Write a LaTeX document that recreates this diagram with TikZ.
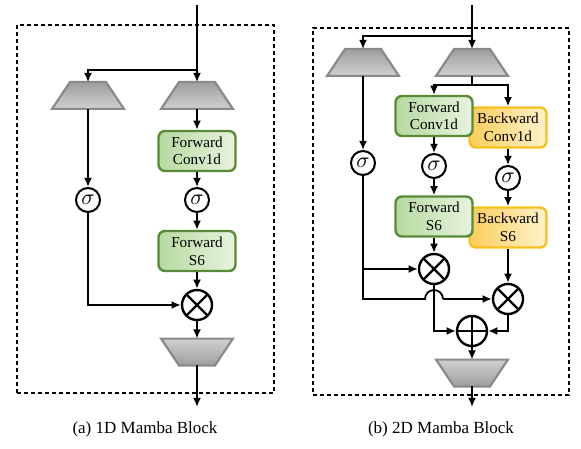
\documentclass[tikz,border=0pt]{standalone}
\usepackage{fontspec}
\setmainfont{Liberation Serif}
\usetikzlibrary{calc,arrows.meta}
\definecolor{trapA}{RGB}{158,158,158}
\definecolor{trapB}{RGB}{208,208,208}
\definecolor{trapdraw}{RGB}{138,138,138}
\definecolor{greenA}{RGB}{182,217,160}
\definecolor{greenB}{RGB}{232,243,222}
\definecolor{greendraw}{RGB}{88,138,56}
\definecolor{orangeA}{RGB}{252,206,90}
\definecolor{orangeB}{RGB}{255,242,205}
\definecolor{orangedraw}{RGB}{246,193,30}
\newcommand{\mytrapup}[1]{\draw[trapst, top color=trapA, bottom color=trapB]
  ($(#1.north)+(-18,0)$) -- ($(#1.north)+(18,0)$) -- (#1.south east) -- (#1.south west) -- cycle;}
\newcommand{\mytrapdown}[1]{\draw[trapst, top color=trapB, bottom color=trapA]
  (#1.north west) -- (#1.north east) -- ($(#1.south)+(18,0)$) -- ($(#1.south)+(-18,0)$) -- cycle;}
\begin{document}
\begin{tikzpicture}[x=0.5pt,y=-0.5pt,
  >={Latex[length=4.6pt,width=4pt]}, line width=0.9pt,
  tbox/.style={rectangle, minimum width=35pt, minimum height=12.5pt, inner sep=0pt},
  trapst/.style={draw=trapdraw, line width=1.1pt, line join=miter},
  fbox/.style={rounded corners=3.2pt, draw=greendraw, line width=1.2pt,
    left color=greenA, right color=greenB, minimum width=38.5pt, minimum height=20pt,
    align=center, inner sep=0pt, font=\fontsize{7.6}{8.8}\selectfont},
  bbox/.style={fbox, draw=orangedraw, left color=orangeA, right color=orangeB},
  sig/.style={circle, draw, line width=1pt, minimum size=12pt, inner sep=0pt,
    fill=white, font=\fontsize{11}{11}\selectfont},
  mul/.style={circle, draw, line width=1.2pt, minimum size=15pt, inner sep=0pt, fill=white,
    path picture={\draw[line width=1.1pt] (path picture bounding box.north west) -- (path picture bounding box.south east)
      (path picture bounding box.north east) -- (path picture bounding box.south west);}},
  addn/.style={circle, draw, line width=1.2pt, minimum size=15pt, inner sep=0pt, fill=white,
    path picture={\draw[line width=1.1pt] (path picture bounding box.north) -- (path picture bounding box.south)
      (path picture bounding box.east) -- (path picture bounding box.west);}},
  frame/.style={draw, line width=0.7pt, dash pattern=on 2pt off 1.5pt},
  captext/.style={font=\fontsize{8.5}{10}\selectfont}
]
\useasboundingbox (0,0) rectangle (581,448);

% ---------- (a) 1D ----------
\node[frame, minimum width=128.5pt, minimum height=184pt, inner sep=0pt] (frameA) at (145.5,209) {};
\coordinate (inA) at (197,5);
\coordinate (brA) at (197,70);
\coordinate (outA) at (197,407);
\node[tbox] (trapLA) at (88,95.5) {};
\node[tbox] (trapRA) at (197,95.5) {};
\mytrapup{trapLA}
\mytrapup{trapRA}
\node[fbox] (convA) at (197,151) {Forward\\Conv1d};
\node[sig] (sigLA) at (88,200) {$\sigma$};
\node[sig] (sigRA) at (197,200) {$\sigma$};
\node[fbox] (s6A) at (197,251) {Forward\\S6};
\node[mul] (mulA) at (197,305) {};
\node[tbox] (trapOA) at (197,352) {};
\mytrapdown{trapOA}
\node[captext] (capA) at (145,429) {(a) 1D Mamba Block};

\draw[->] (inA) -- (trapRA.north);
\draw[->] (brA) -| (trapLA.north);
\draw[->] (trapRA.south) -- (convA.north);
\draw[->] (convA.south) -- (sigRA.north);
\draw[->] (sigRA.south) -- (s6A.north);
\draw[->] (s6A.south) -- (mulA.north);
\draw[->] (trapLA.south) -- (sigLA.north);
\draw[->] (sigLA.south) |- (mulA.west);
\draw[->] (mulA.south) -- (trapOA.north);
\draw[->] (trapOA.south) -- (outA);

% ---------- (b) 2D ----------
\node[frame, minimum width=128pt, minimum height=183.5pt, inner sep=0pt] (frameB) at (441,211.5) {};
\coordinate (inB) at (472,5);
\coordinate (brB) at (472,36);
\coordinate (spB) at (472,85);
\coordinate (outB) at (472,407);
\coordinate (jl) at (425,299);
\coordinate (jr) at (443,299);
\coordinate (kB) at (363,299);
\node[tbox] (trapLB) at (363,62.5) {};
\node[tbox] (trapRB) at (472,62.5) {};
\mytrapup{trapLB}
\mytrapup{trapRB}
\node[bbox] (bconv) at (508,127.5) {Backward\\Conv1d};
\node[fbox] (fconv) at (434,116) {Forward\\Conv1d};
\node[sig] (sigAB) at (363,163) {$\sigma$};
\node[sig] (sigBB) at (434,166) {$\sigma$};
\node[sig] (sigCB) at (508,178) {$\sigma$};
\node[bbox] (bs6) at (508,227.5) {Backward\\S6};
\node[fbox] (fs6) at (434,216.5) {Forward\\S6};
\node[mul] (mulB1) at (434,269) {};
\node[mul] (mulB2) at (508,299) {};
\node[addn] (addB) at (472,331) {};
\node[tbox] (trapOB) at (472,373) {};
\mytrapdown{trapOB}
\node[captext] (capB) at (441,429) {(b) 2D Mamba Block};

\draw[->] (inB) -- (trapRB.north);
\draw[->] (brB) -| (trapLB.north);
\draw (trapRB.south) -- (spB);
\draw[->] (spB) -| (fconv.north);
\draw[->] (spB) -| (bconv.north);
\draw[->] (trapLB.south) -- (sigAB.north);
\draw[->] (fconv.south) -- (sigBB.north);
\draw[->] (sigBB.south) -- (fs6.north);
\draw[->] (bconv.south) -- (sigCB.north);
\draw[->] (sigCB.south) -- (bs6.north);
\draw[->] (fs6.south) -- (mulB1.north);
\draw[->] (bs6.south) -- (mulB2.north);
\draw[->] (sigAB.south) |- (mulB1.west);
\draw (sigAB.south) -- (kB) -- (jl) arc[start angle=180, end angle=360, radius=9];
\draw[->] (jr) -- (mulB2.west);
\draw[->] (mulB1.south) |- (addB.west);
\draw[->] (mulB2.south) |- (addB.east);
\draw[->] (addB.south) -- (trapOB.north);
\draw[->] (trapOB.south) -- (outB);
\end{tikzpicture}
\end{document}
